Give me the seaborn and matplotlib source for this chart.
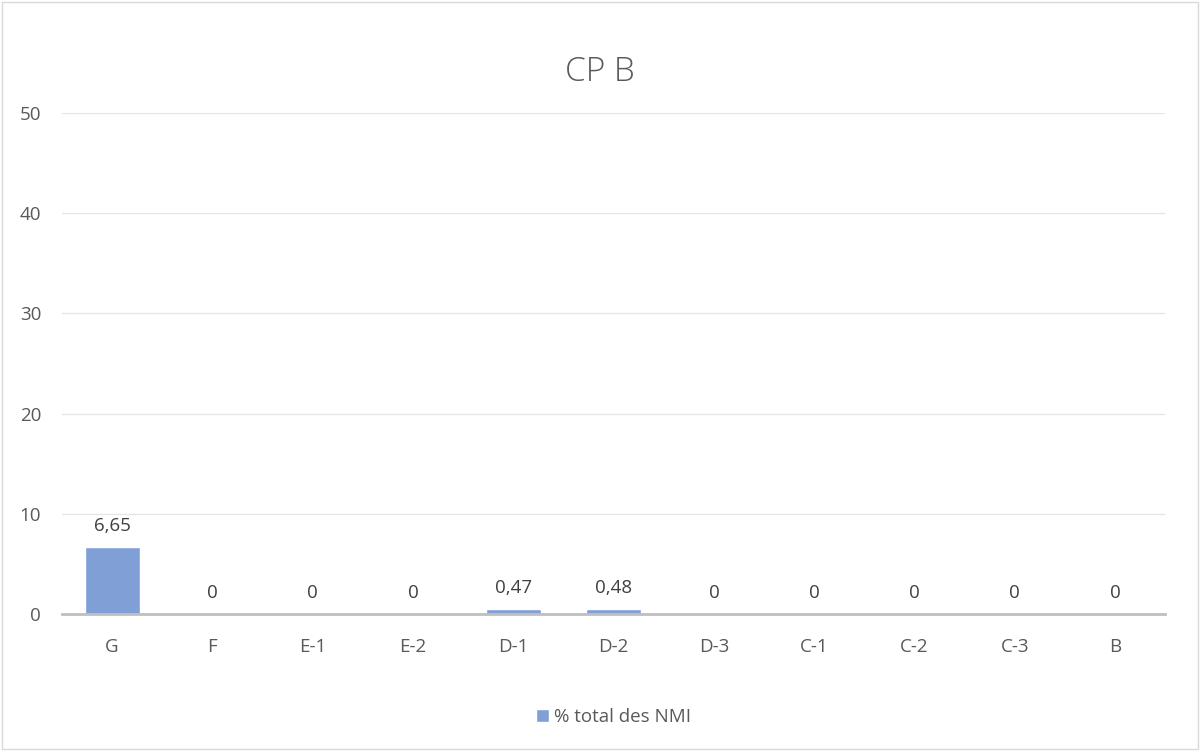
import matplotlib
matplotlib.use("Agg")
import matplotlib.pyplot as plt
import seaborn as sns
import pandas as pd
from matplotlib.patches import Rectangle

categories = ["G", "F", "E-1", "E-2", "D-1", "D-2", "D-3", "C-1", "C-2", "C-3", "B"]
values = [6.65, 0, 0, 0, 0.47, 0.48, 0, 0, 0, 0, 0]
labels = ["6,65", "0", "0", "0", "0,47", "0,48", "0", "0", "0", "0", "0"]

df = pd.DataFrame({"cat": categories, "val": values})

sns.set_theme(style="white")
plt.rcParams["font.family"] = ["Open Sans", "DejaVu Sans"]

fig = plt.figure(figsize=(12, 7.51), dpi=100)
ax = fig.add_axes([0.0517, 0.1824, 0.9193, 0.6671])

sns.barplot(data=df, x="cat", y="val", color="#7F9FD6", width=0.55,
            saturation=1, ax=ax, label="% total des NMI")

ax.set_ylim(0, 50)
ax.set_xlim(-0.5, len(categories) - 0.5)
ax.set_yticks([0, 10, 20, 30, 40, 50])
ax.grid(True, axis="y", color="#E6E6E6", linewidth=1)
ax.set_axisbelow(True)
for s in ["top", "right", "left"]:
    ax.spines[s].set_visible(False)
ax.spines["bottom"].set_color("#BFBFBF")
ax.spines["bottom"].set_linewidth(2)
ax.tick_params(axis="both", length=0, labelsize=13.5, labelcolor="#595959")
ax.tick_params(axis="x", pad=17)
ax.tick_params(axis="y", pad=15)
ax.set_xlabel("")
ax.set_ylabel("")

for i, (v, t) in enumerate(zip(values, labels)):
    ax.annotate(t, (i, v), xytext=(0, 9), textcoords="offset points",
                ha="center", va="bottom", fontsize=13.5, color="#404040")

fig.text(0.5, 0.904, "CP B", ha="center", va="center", fontsize=24,
         color="#595959", fontweight="light")

leg = ax.legend(loc="center", bbox_to_anchor=(0.5, -0.205), frameon=False,
                fontsize=13.5, handlelength=0.7, handleheight=0.7, handletextpad=0.3)
for t in leg.get_texts():
    t.set_color("#595959")

fig.patches.append(Rectangle((0.002, 0.002), 0.996, 0.996, transform=fig.transFigure,
                             fill=False, edgecolor="#D9D9D9", linewidth=1))

fig.savefig("out.png", dpi=100)
